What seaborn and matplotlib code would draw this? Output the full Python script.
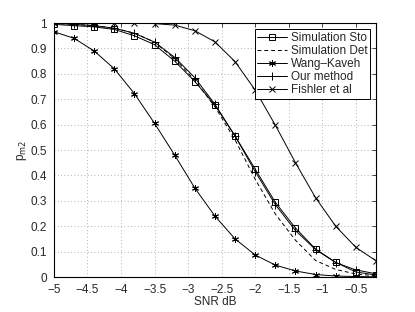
import numpy as np
import pandas as pd
import seaborn as sns
import matplotlib
matplotlib.use('Agg')
import matplotlib.pyplot as plt

snr = [-5.0, -4.7, -4.4, -4.1, -3.8, -3.5, -3.2, -2.9, -2.6,
       -2.3, -2.0, -1.7, -1.4, -1.1, -0.8, -0.5, -0.2]

sim_sto = [0.995, 0.99, 0.985, 0.975, 0.95, 0.915, 0.85, 0.77, 0.677,
           0.555, 0.425, 0.294, 0.193, 0.11, 0.058, 0.02, 0.008]
sim_det = [0.998, 0.995, 0.99, 0.98, 0.96, 0.925, 0.86, 0.775, 0.67,
           0.54, 0.385, 0.248, 0.145, 0.065, 0.03, 0.012, 0.005]
wang_kaveh = [0.966, 0.94, 0.89, 0.82, 0.722, 0.605, 0.48, 0.35, 0.24,
              0.15, 0.087, 0.047, 0.024, 0.01, 0.004, 0.002, 0.001]
our_method = [1.0, 0.995, 0.99, 0.98, 0.96, 0.925, 0.865, 0.785, 0.68,
              0.555, 0.415, 0.285, 0.183, 0.108, 0.057, 0.028, 0.013]
fishler = [1.0, 1.0, 1.0, 1.0, 1.0, 0.998, 0.992, 0.97, 0.926,
           0.848, 0.736, 0.598, 0.45, 0.312, 0.2, 0.117, 0.064]

sns.set_style('white')
plt.rcParams['font.family'] = ['Liberation Sans', 'DejaVu Sans']
plt.rcParams['font.size'] = 8.5

fig, ax = plt.subplots(figsize=(4.15, 3.12), dpi=100)
fig.subplots_adjust(left=0.130, right=0.906, bottom=0.112, top=0.926)

# MATLAB style asterisk marker
asterisk = (6, 2, 0)
series = [
    ('Simulation Sto', sim_sto, '-', 's', 4.5),
    ('Simulation Det', sim_det, (0, (4, 3)), None, 0),
    ('Wang\u2013Kaveh', wang_kaveh, '-', asterisk, 5),
    ('Our method', our_method, '-', '+', 6),
    ('Fishler et al', fishler, '-', 'x', 4.5),
]
for name, vals, ls, mk, ms in series:
    df = pd.DataFrame({'snr': snr, 'p': vals})
    sns.lineplot(data=df, x='snr', y='p', ax=ax, color='black', lw=0.7,
                 marker=mk, markersize=ms,
                 markerfacecolor='none', markeredgecolor='black',
                 markeredgewidth=0.7, label=name)
    ax.lines[-1].set_linestyle(ls)

ax.set_xlim(-5, -0.2)
ax.set_ylim(0, 1)
ax.set_xticks(np.arange(-5, -0.49, 0.5))
ax.set_xticklabels(['\u22125', '\u22124.5', '\u22124', '\u22123.5', '\u22123',
                    '\u22122.5', '\u22122', '\u22121.5', '\u22121', '\u22120.5'])
ax.set_yticks(np.arange(0, 1.01, 0.1))
ax.set_yticklabels(['0', '0.1', '0.2', '0.3', '0.4', '0.5', '0.6', '0.7',
                    '0.8', '0.9', '1'])
ax.grid(True, linestyle=(0, (1, 3)), color='#999999', lw=0.6)
ax.tick_params(direction='in', length=3, width=0.6, top=True, right=True,
               labelsize=8.5)
ax.tick_params(axis='x', pad=5)
ax.tick_params(axis='y', pad=5)
for s in ax.spines.values():
    s.set_color('black')
    s.set_linewidth(0.8)
ax.set_xlabel('SNR dB', labelpad=0)
ax.set_ylabel('p$_{\\mathrm{m2}}$', labelpad=1)

leg = ax.legend(loc='upper right', frameon=True, fancybox=False,
                edgecolor='black', framealpha=1, handlelength=2.5,
                borderpad=0.25, labelspacing=0.08, handletextpad=0.3,
                borderaxespad=0.5, fontsize=8.5)
leg.get_frame().set_linewidth(0.7)
for h, (name, vals, ls, mk, ms) in zip(leg.legend_handles, series):
    h.set_linestyle(ls)

fig.savefig('out.png', dpi=100)
